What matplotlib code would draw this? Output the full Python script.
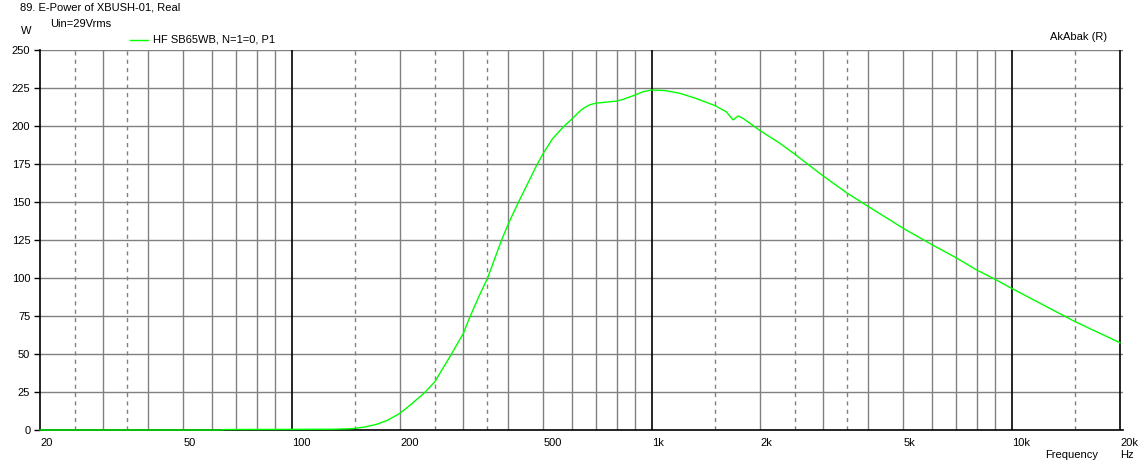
import numpy as np
import matplotlib
matplotlib.use("Agg")
from matplotlib import pyplot as plt

plt.rcParams['font.family'] = ['Liberation Sans', 'DejaVu Sans']

# values (Hz, W)
freq = [20, 64, 65, 130, 145, 150, 160, 172, 185, 200, 215, 234, 250, 278, 300,
        311, 330, 350, 383, 404, 429, 479, 500, 530, 569, 600, 630, 650, 674,
        700, 800, 832, 900, 948, 1000, 1090, 1199, 1333, 1500, 1611, 1684,
        1738, 1795, 2000, 2272, 2500, 3000, 3500, 4000, 5000, 6000, 7000, 8000,
        9000, 10000, 15000, 20000]
power = [0, 0, 0.3, 0.5, 0.8, 1.1, 2.0, 3.7, 6.5, 11, 17, 24.5, 31.8, 50, 63.6,
         73, 87, 99.8, 125, 138, 151, 174, 182, 191.5, 199.5, 204.5, 209.5,
         212, 214, 215, 216.4, 217.5, 220.4, 222.6, 223.7, 223.3, 221.5, 218,
         213.4, 209.4, 204, 206.6, 205, 197, 188.6, 181.4, 167, 155.7, 147,
         132.7, 122, 113.4, 105.3, 99.1, 93.2, 71.3, 57.4]

xtick_vals = [20, 50, 100, 200, 500, 1000, 2000, 5000, 10000, 20000]
xtick_labels = ["20", "50", "100", "200", "500", "1k", "2k", "5k", "10k", "20k"]
ytick_vals = [0, 25, 50, 75, 100, 125, 150, 175, 200, 225, 250]

W, H = 1147, 467
FS = 8
fig = plt.figure(figsize=(W / 100, H / 100), dpi=100)
fig.patch.set_facecolor("white")
ax = fig.add_axes([40 / W, (H - 430) / H, 1083 / W, 380 / H])

def px(x, y):
    return x / W, 1 - y / H

# vertical grid: solid at 2..9 x decade, dashed at 1.5/2.5/3.5 x decade
for dec in [10, 100, 1000, 10000]:
    for m in [2, 3, 4, 5, 6, 7, 8, 9]:
        f = m * dec
        if 20 < f < 20000:
            ax.axvline(f, color="#808080", lw=1.0, zorder=1)
    for m in [1.5, 2.5, 3.5]:
        f = m * dec
        if 20 < f < 20000:
            ax.axvline(f, color="#808080", lw=1.0, ls=(0, (3, 3)), zorder=1)
for f in [100, 1000, 10000, 20000]:
    ax.axvline(f, color="black", lw=1.2, zorder=2)
for v in ytick_vals[1:]:
    ax.axhline(v, color="#808080", lw=1.0, zorder=1)

ax.semilogx(freq, power, color="#00ff00", lw=1.0, zorder=3, clip_on=False)

ax.set_xscale("log")
ax.set_xlim(20, 20000 * 10 ** (3 / 360))
ax.set_ylim(0, 250)
ax.set_xticks(xtick_vals)
ax.set_xticklabels(xtick_labels, ha="left", fontsize=FS)
ax.xaxis.set_minor_locator(matplotlib.ticker.NullLocator())
ax.tick_params(axis="x", length=0, pad=6)
ax.set_yticks(ytick_vals)
ax.set_yticklabels([str(v) for v in ytick_vals], fontsize=FS)
ax.tick_params(axis="y", length=4, pad=3, width=1)
for s in ["top", "right"]:
    ax.spines[s].set_visible(False)
for s in ["left", "bottom"]:
    ax.spines[s].set_color("black")
    ax.spines[s].set_linewidth(1.2)

fig.text(*px(20, 8), "89. E-Power of XBUSH-01, Real", fontsize=FS, va="center")
fig.text(*px(50, 24), "Uin=29Vrms", fontsize=FS, va="center")
fig.text(*px(21, 31), "W", fontsize=FS, va="center")
fig.add_artist(plt.Line2D([130 / W, 148 / W], [1 - 40 / H] * 2, color="#00ff00", lw=1.0))
fig.text(*px(153, 40), "HF SB65WB, N=1=0, P1", fontsize=FS, va="center")
fig.text(*px(1107, 37), "AkAbak (R)", fontsize=FS, va="center", ha="right")
fig.text(*px(1045, 455), "Frequency", fontsize=FS, va="center")
fig.text(*px(1120, 455), "Hz", fontsize=FS, va="center")

fig.savefig("out.png", dpi=100)
